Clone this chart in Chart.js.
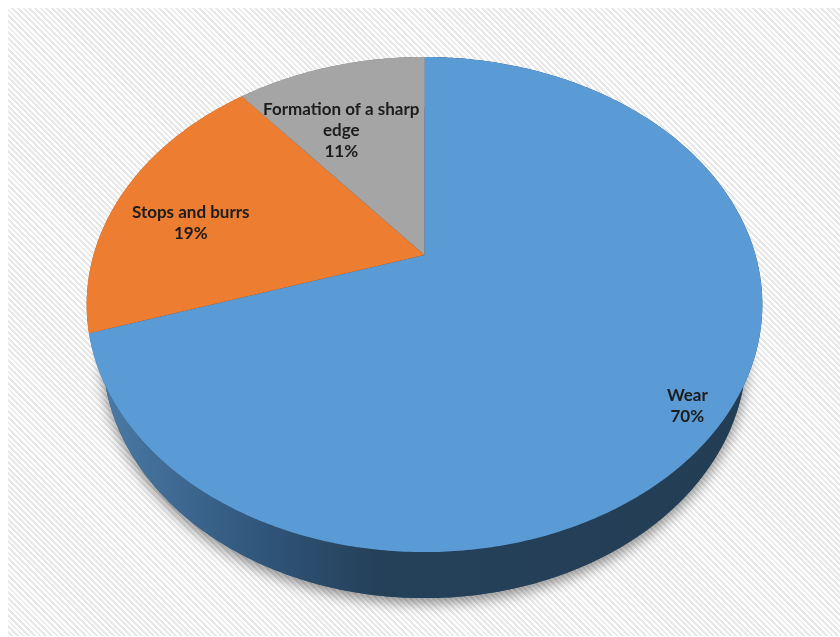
<!DOCTYPE html>
<html>
<head>
<meta charset="utf-8">
<script src="https://cdn.jsdelivr.net/npm/chart.js@4.4.1/dist/chart.umd.min.js"></script>
<style>
  html, body { margin: 0; padding: 0; background: #fff; }
  #wrap { position: relative; width: 840px; height: 637px; overflow: hidden; }
  #panel {
    position: absolute; left: 8px; top: 8px; right: 0; bottom: 1px;
    background: repeating-linear-gradient(45deg, #ffffff 0 2px, #e8e8e8 2px 4px);
  }
  #myChart { position: absolute; left: 0; top: 0; }
</style>
</head>
<body>
<div id="wrap">
  <div id="panel"></div>
  <canvas id="myChart" width="840" height="637"></canvas>
</div>
<script>
var categories = ['Wear', 'Stops and burrs', 'Formation of a sharp edge'];
var shares = [70, 19, 11];
var topColors = ['#5b9bd5', '#ed7d31', '#a5a5a5'];
var sideColors = ['#2c4e6e', '#a4521c', '#6f6f6f'];

// tilted disc seen in perspective, drawn from the arc angles chart.js computes
var pie3d = {
  id: 'pie3d',
  beforeDatasetsDraw: function () { return false; },
  afterDraw: function (chart, args, o) {
    var ctx = chart.ctx;
    var meta = chart.getDatasetMeta(0);
    var arcs = meta.data;
    var cx = arcs[0].x, cy = arcs[0].y;
    var R = o.radius, sinT = Math.sin(o.tilt), cosT = Math.cos(o.tilt);
    var f = arcs[0].outerRadius * o.spread / R;

    function project(a, frac, depth) {
      var u = Math.cos(a) * frac * R, v = -Math.sin(a) * frac * R;
      var y3 = v * sinT - depth * cosT;
      var z = 1 + v * cosT + depth * sinT;
      return [cx + f * u / z, cy - f * y3 / z];
    }

    function rim(a0, a1, depth, reverse) {
      var n = Math.max(2, Math.ceil((a1 - a0) / 0.01));
      var pts = [];
      for (var k = 0; k <= n; k++) {
        pts.push(project(a0 + (a1 - a0) * k / n, 1, depth));
      }
      return reverse ? pts.reverse() : pts;
    }

    var full = rim(0, Math.PI * 2, o.depth, false);
    var minX = Infinity, maxX = -Infinity;
    full.forEach(function (p) { minX = Math.min(minX, p[0]); maxX = Math.max(maxX, p[0]); });

    ctx.save();

    // soft drop shadow under the base
    ctx.save();
    ctx.shadowColor = 'rgba(0,0,0,0.45)';
    ctx.shadowBlur = 14;
    ctx.shadowOffsetY = 5;
    ctx.beginPath();
    full.forEach(function (p, k) { k ? ctx.lineTo(p[0], p[1]) : ctx.moveTo(p[0], p[1]); });
    ctx.closePath();
    ctx.fillStyle = sideColors[0];
    ctx.fill();
    ctx.restore();

    // side walls
    arcs.forEach(function (arc, i) {
      var pts = rim(arc.startAngle, arc.endAngle, 0, false)
        .concat(rim(arc.startAngle, arc.endAngle, o.depth, true));
      ctx.beginPath();
      pts.forEach(function (p, k) { k ? ctx.lineTo(p[0], p[1]) : ctx.moveTo(p[0], p[1]); });
      ctx.closePath();
      if (i === 0) {
        var g = ctx.createLinearGradient(minX, 0, maxX, 0);
        g.addColorStop(0, '#4a7aa6');
        g.addColorStop(0.25, '#30557a');
        g.addColorStop(0.42, '#25415a');
        g.addColorStop(1, '#233d54');
        ctx.fillStyle = g;
      } else {
        ctx.fillStyle = sideColors[i];
      }
      ctx.fill();
    });

    // top faces
    arcs.forEach(function (arc, i) {
      var pts = rim(arc.startAngle, arc.endAngle, 0, false);
      ctx.beginPath();
      ctx.moveTo(cx, cy);
      pts.forEach(function (p) { ctx.lineTo(p[0], p[1]); });
      ctx.closePath();
      ctx.fillStyle = topColors[i];
      ctx.fill();
    });

    // data labels
    var total = shares.reduce(function (s, v) { return s + v; }, 0);
    ctx.font = o.font;
    ctx.fillStyle = '#1c1c1c';
    ctx.textAlign = 'center';
    ctx.textBaseline = 'middle';
    arcs.forEach(function (arc, i) {
      var words = categories[i].split(' ');
      var lines = [], line = '';
      words.forEach(function (w) {
        var test = line ? line + ' ' + w : w;
        if (ctx.measureText(test).width > o.wrapWidth && line) { lines.push(line); line = w; }
        else line = test;
      });
      lines.push(line);
      lines.push(Math.round(shares[i] / total * 100) + '%');
      var spot = o.labelSpots[i];
      var mid = (arc.startAngle + arc.endAngle) / 2;
      var p = project(mid, spot.q, 0);
      var x = p[0] + spot.dx, y = p[1] + spot.dy - (lines.length - 1) * o.lineHeight / 2;
      lines.forEach(function (t, k) { ctx.fillText(t, x, y + k * o.lineHeight); });
    });

    ctx.restore();
  }
};

new Chart(document.getElementById('myChart'), {
  type: 'pie',
  data: {
    labels: categories,
    datasets: [{
      data: shares,
      backgroundColor: topColors,
      borderWidth: 0
    }]
  },
  options: {
    responsive: false,
    animation: false,
    layout: { padding: { left: 9, bottom: 127 } },
    plugins: {
      legend: { display: false },
      tooltip: { enabled: false },
      pie3d: {
        radius: 0.2874,
        tilt: Math.asin(0.718),
        depth: 0.0663,
        spread: 1.298,
        font: 'bold 17px Lato',
        lineHeight: 21,
        wrapWidth: 175,
        labelSpots: [
          { q: 0.88, dx: 0, dy: 14 },
          { q: 0.76, dx: -2, dy: 16 },
          { q: 0.62, dx: -21, dy: 0 }
        ]
      }
    }
  },
  plugins: [pie3d]
});
</script>
</body>
</html>
